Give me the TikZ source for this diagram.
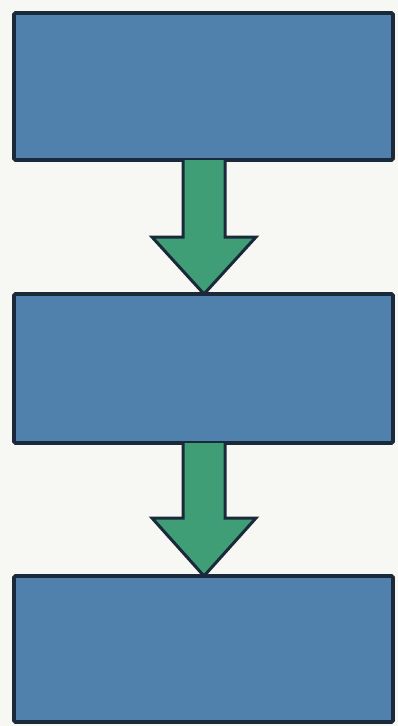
\documentclass[tikz,border=0pt]{standalone}
\definecolor{bg}{HTML}{F7F7F3}
\definecolor{boxfill}{HTML}{5080AC}
\definecolor{edge}{HTML}{1B2A3A}
\definecolor{arrowfill}{HTML}{3F9E76}
\begin{document}
\begin{tikzpicture}[x=1pt,y=-1pt,
  stage/.style={draw=edge,fill=boxfill,line width=3.6pt,rounded corners=1.5pt},
  blockarrow/.style={draw=edge,fill=arrowfill,line width=3pt,line join=miter}]
\fill[bg] (0,0) rectangle (398,726);
\useasboundingbox (0,0) rectangle (398,726);
\draw[stage] (14,13) rectangle (393,160);
\coordinate (b1s) at (204,160);
\draw[stage] (14,294) rectangle (393,443);
\coordinate (b2n) at (204,294);
\coordinate (b2s) at (204,443);
\draw[stage] (14,576) rectangle (393,722);
\coordinate (b3n) at (204,576);
\draw[blockarrow] ([xshift=-21]b1s) -- ++(0,77) -- ++(-31,0) -- (b2n) -- ++(52,-57) -- ++(-31,0) -- ([xshift=21]b1s);
\draw[blockarrow] ([xshift=-21]b2s) -- ++(0,75) -- ++(-31,0) -- (b3n) -- ++(52,-58) -- ++(-31,0) -- ([xshift=21]b2s);
\end{tikzpicture}
\end{document}
